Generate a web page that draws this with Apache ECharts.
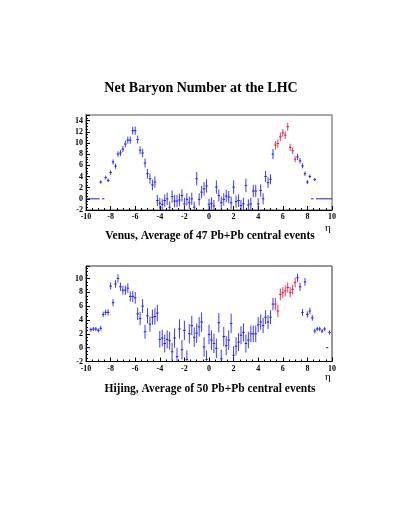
<!DOCTYPE html>
<html>
<head>
    <meta charset="utf-8"/>
    <title>Net Baryon Number at the LHC</title>
    <script src="https://cdn.jsdelivr.net/npm/echarts@6/dist/echarts.min.js"></script>
    <style>
        html, body { margin: 0; padding: 0; background: #fff; }
        #main { width: 409px; height: 529px; }
    </style>
</head>
<body>
<div id="main"></div>
<script type="text/javascript">
    // Venus: eta bin centre, value, error
    var venusEta = [-8.8, -8.4, -8.2, -8.0, -7.8, -7.6, -7.4, -7.2, -7.0, -6.8, -6.6, -6.4, -6.2, -6.0, -5.8, -5.6, -5.4, -5.2, -5.0, -4.8,
        -4.6, -4.4, -4.2, -4.0, -3.8, -3.6, -3.4, -3.2, -3.0, -2.8, -2.6, -2.4, -2.2, -2.0, -1.8, -1.6, -1.4, -1.2, -1.0, -0.8,
        -0.6, -0.4, -0.2, 0.0, 0.2, 0.4, 0.6, 0.8, 1.0, 1.2, 1.4, 1.6, 1.8, 2.0, 2.2, 2.4, 2.6, 2.8, 3.0, 3.2,
        3.4, 3.6, 3.8, 4.0, 4.2, 4.4, 4.6, 4.8, 5.0, 5.2, 5.4, 5.6, 5.8, 6.0, 6.2, 6.4, 6.6, 6.8, 7.0, 7.2,
        7.4, 7.6, 7.8, 8.0, 8.2, 8.6];
    var venusVal = [3.0, 3.8, 3.3, 4.7, 6.6, 5.85, 8.0, 8.2, 8.9, 9.8, 10.5, 10.5, 12.2, 12.2, 10.6, 8.7, 8.2, 6.4, 4.5, 3.6,
        2.5, 3.0, -0.3, -0.8, -1.0, -0.3, 0.0, -1.5, 0.4, -0.4, -0.4, -0.2, 0.6, -0.9, -0.1, -0.7, 0.0, -1.5, 3.6, -0.1,
        1.2, 1.8, 2.3, -1.0, -0.8, -1.3, 2.1, 0.6, -0.7, -0.1, 0.5, 0.3, -0.7, 2.1, -0.5, -0.3, -1.2, -0.9, 2.4, -1.1,
        -0.9, 1.4, 1.4, -0.9, 1.5, 0.0, 4.0, 2.9, 3.5, 8.0, 9.6, 9.9, 11.1, 11.8, 11.4, 12.9, 9.2, 8.6, 7.1, 7.5,
        6.8, 5.9, 4.5, 3.0, 4.0, 3.45];
    var venusErr = [0.3, 0.35, 0.35, 0.4, 0.45, 0.45, 0.5, 0.55, 0.55, 0.6, 0.65, 0.65, 0.7, 0.75, 0.7, 0.7, 0.75, 0.8, 0.85, 0.9,
        0.95, 1.0, 1.0, 1.0, 1.0, 1.1, 1.1, 1.0, 1.1, 1.1, 1.1, 1.1, 1.1, 1.1, 1.1, 1.1, 1.1, 1.0, 1.2, 1.1,
        1.1, 1.2, 1.2, 1.0, 1.1, 1.1, 1.2, 1.1, 1.1, 1.1, 1.1, 1.1, 1.1, 1.2, 1.1, 1.1, 1.0, 1.1, 1.2, 1.0,
        1.1, 1.1, 1.1, 1.0, 1.1, 1.0, 1.0, 0.95, 0.9, 0.9, 0.75, 0.75, 0.75, 0.7, 0.7, 0.7, 0.65, 0.6, 0.55, 0.55,
        0.5, 0.45, 0.4, 0.35, 0.35, 0.3];
    var venusEmpty = [[-10, -8.9], [-8.7, -8.5], [8.3, 8.5], [8.7, 10]];
    var venusRed = [5.3, 7.1];

    // Hijing: eta bin centre, value, error
    var hijingEta = [-10.0, -9.6, -9.4, -9.2, -9.0, -8.8, -8.6, -8.4, -8.2, -8.0, -7.8, -7.6, -7.4, -7.2, -7.0, -6.8, -6.6, -6.4, -6.2, -6.0,
        -5.8, -5.6, -5.4, -5.2, -5.0, -4.8, -4.6, -4.4, -4.2, -4.0, -3.8, -3.6, -3.4, -3.2, -3.0, -2.8, -2.6, -2.4, -2.2, -2.0,
        -1.8, -1.6, -1.4, -1.2, -1.0, -0.8, -0.6, -0.4, -0.2, 0.0, 0.2, 0.4, 0.6, 0.8, 1.0, 1.2, 1.4, 1.6, 1.8, 2.0,
        2.2, 2.4, 2.6, 2.8, 3.0, 3.2, 3.4, 3.6, 3.8, 4.0, 4.2, 4.4, 4.6, 4.8, 5.0, 5.2, 5.4, 5.6, 5.8, 6.0,
        6.2, 6.4, 6.6, 6.8, 7.0, 7.2, 7.4, 7.6, 7.8, 8.0, 8.2, 8.4, 8.6, 8.8, 9.0, 9.2, 9.4, 9.8];
    var hijingVal = [2.7, 2.6, 2.7, 2.7, 2.5, 2.8, 4.8, 5.1, 5.1, 8.9, 6.5, 9.2, 10.0, 8.8, 8.3, 8.3, 8.6, 7.4, 7.4, 7.2,
        4.9, 4.2, 6.0, 2.3, 4.6, 3.4, 4.4, 4.5, 5.0, 1.2, 1.4, 0.6, 1.2, 1.0, -0.6, 1.4, -1.3, 2.7, -0.3, 2.5,
        -1.7, 2.0, 3.2, 1.5, 2.1, 3.0, 3.7, 0.1, -1.7, 1.9, 1.1, 0.6, -0.1, 3.6, -1.6, 1.6, 0.3, 1.1, 3.5, -1.1,
        0.2, 0.8, 1.8, 2.2, 0.6, 1.1, 2.0, 2.0, 2.0, 3.3, 3.7, 3.2, 4.4, 3.7, 4.4, 6.3, 6.3, 5.3, 7.7, 7.95,
        8.2, 8.7, 8.0, 8.4, 9.4, 10.1, 8.8, 5.1, 9.5, 4.8, 5.3, 4.3, 2.4, 2.7, 2.7, 2.4, 2.7, 2.2];
    var hijingErr = [0.3, 0.3, 0.3, 0.3, 0.3, 0.35, 0.4, 0.4, 0.45, 0.5, 0.5, 0.55, 0.6, 0.6, 0.65, 0.65, 0.7, 0.75, 0.8, 0.85,
        0.9, 0.95, 1.0, 1.0, 1.1, 1.1, 1.1, 1.2, 1.2, 1.2, 1.2, 1.3, 1.3, 1.3, 1.3, 1.4, 1.3, 1.4, 1.4, 1.4,
        1.3, 1.4, 1.4, 1.4, 1.4, 1.4, 1.4, 1.4, 1.3, 1.4, 1.4, 1.4, 1.4, 1.4, 1.3, 1.4, 1.4, 1.4, 1.4, 1.3,
        1.3, 1.3, 1.3, 1.3, 1.3, 1.2, 1.2, 1.2, 1.2, 1.1, 1.1, 1.1, 1.0, 1.0, 1.0, 0.9, 0.9, 0.9, 0.85, 0.8,
        0.8, 0.75, 0.75, 0.7, 0.7, 0.6, 0.6, 0.5, 0.55, 0.45, 0.45, 0.4, 0.35, 0.3, 0.3, 0.3, 0.3, 0.3];
    var hijingEmpty = [[-9.9, -9.7], [9.5, 9.7]];
    var hijingRed = [5.3, 7.1];

    var BLUE = '#1a1aff';
    var RED = '#e8103f';
    var FONT = 'Liberation Serif';

    function points(eta, val, err, red) {
        var out = [];
        for (var i = 0; i < eta.length; i++) {
            var isRed = (eta[i] > red[0] && eta[i] < red[1]) ? 1 : 0;
            out.push([eta[i], val[i], err[i], isRed]);
        }
        return out;
    }

    function renderPoint(params, api) {
        var x = api.value(0), y = api.value(1), e = api.value(2);
        var color = api.value(3) ? RED : BLUE;
        var c = api.coord([x, y]);
        var lo = api.coord([x, y - e]);
        var hi = api.coord([x, y + e]);
        var l = api.coord([x - 0.1, y]);
        var r = api.coord([x + 0.1, y]);
        return {
            type: 'group',
            children: [
                {type: 'line', shape: {x1: c[0], y1: lo[1], x2: c[0], y2: hi[1]},
                    style: {stroke: color, lineWidth: 1, opacity: 0.85}},
                {type: 'line', shape: {x1: l[0], y1: c[1], x2: r[0], y2: c[1]},
                    style: {stroke: color, lineWidth: 1}}
            ]
        };
    }

    function renderEmpty(params, api) {
        var a = api.coord([api.value(0), 0]);
        var b = api.coord([api.value(1), 0]);
        return {type: 'line', shape: {x1: a[0], y1: a[1], x2: b[0], y2: b[1]},
            style: {stroke: BLUE, lineWidth: 1}};
    }

    function xAxis(idx) {
        return {
            type: 'value', gridIndex: idx, min: -10, max: 10, interval: 2,
            axisLine: {show: true, onZero: false, lineStyle: {color: '#000', width: 1}},
            axisTick: {show: true, inside: true, length: 4, lineStyle: {color: '#000'}},
            minorTick: {show: true, splitNumber: 4, length: 2, lineStyle: {color: '#000'}},
            splitLine: {show: false},
            axisLabel: {margin: 3, color: '#000', fontFamily: FONT, fontWeight: 'bold', fontSize: 8}
        };
    }

    function yAxis(idx, max) {
        return {
            type: 'value', gridIndex: idx, min: -2, max: max, interval: 2,
            axisLine: {show: true, onZero: false, lineStyle: {color: '#000', width: 1}},
            axisTick: {show: true, inside: true, length: 4, lineStyle: {color: '#000'}},
            minorTick: {show: true, splitNumber: 4, length: 2, lineStyle: {color: '#000'}},
            splitLine: {show: false},
            axisLabel: {
                margin: 3, color: '#000', fontFamily: FONT, fontWeight: 'bold', fontSize: 8,
                formatter: function (v) { return (v % 2 === 0) ? String(v) : ''; }
            }
        };
    }

    var chart = echarts.init(document.getElementById('main'), null, {renderer: 'canvas'});
    chart.setOption({
        animation: false,
        backgroundColor: '#fff',
        grid: [
            {left: 86, top: 115, width: 246, height: 95, show: true, borderColor: '#8a8a8a', borderWidth: 1.5, backgroundColor: 'transparent'},
            {left: 86, top: 266, width: 246, height: 95.5, show: true, borderColor: '#333', borderWidth: 1, backgroundColor: 'transparent'}
        ],
        xAxis: [xAxis(0), xAxis(1)],
        yAxis: [yAxis(0, 15), yAxis(1, 11.8)],
        graphic: [
            {type: 'text', x: 201, y: 88.3, style: {text: 'Net Baryon Number at the LHC', fill: '#000',
                font: 'bold 14px "Liberation Serif"', align: 'center', verticalAlign: 'middle'}},
            {type: 'text', x: 210, y: 236.4, style: {text: 'Venus, Average of 47 Pb+Pb central events', fill: '#000',
                font: 'bold 11.5px "Liberation Serif"', align: 'center', verticalAlign: 'middle'}},
            {type: 'text', x: 210, y: 389, style: {text: 'Hijing, Average of 50 Pb+Pb central events', fill: '#000',
                font: 'bold 11.5px "Liberation Serif"', align: 'center', verticalAlign: 'middle'}},
            {type: 'text', x: 328, y: 228, style: {text: 'η', fill: '#000',
                font: '11px "Liberation Serif"', align: 'center', verticalAlign: 'middle'}},
            {type: 'text', x: 328, y: 377, style: {text: 'η', fill: '#000',
                font: '11px "Liberation Serif"', align: 'center', verticalAlign: 'middle'}}
        ],
        series: [
            {type: 'custom', name: 'Venus empty', xAxisIndex: 0, yAxisIndex: 0, clip: true,
                renderItem: renderEmpty, data: venusEmpty},
            {type: 'custom', name: 'Venus', xAxisIndex: 0, yAxisIndex: 0, clip: true,
                renderItem: renderPoint, data: points(venusEta, venusVal, venusErr, venusRed)},
            {type: 'custom', name: 'Hijing empty', xAxisIndex: 1, yAxisIndex: 1, clip: true,
                renderItem: renderEmpty, data: hijingEmpty},
            {type: 'custom', name: 'Hijing', xAxisIndex: 1, yAxisIndex: 1, clip: true,
                renderItem: renderPoint, data: points(hijingEta, hijingVal, hijingErr, hijingRed)}
        ]
    });
</script>
</body>
</html>
